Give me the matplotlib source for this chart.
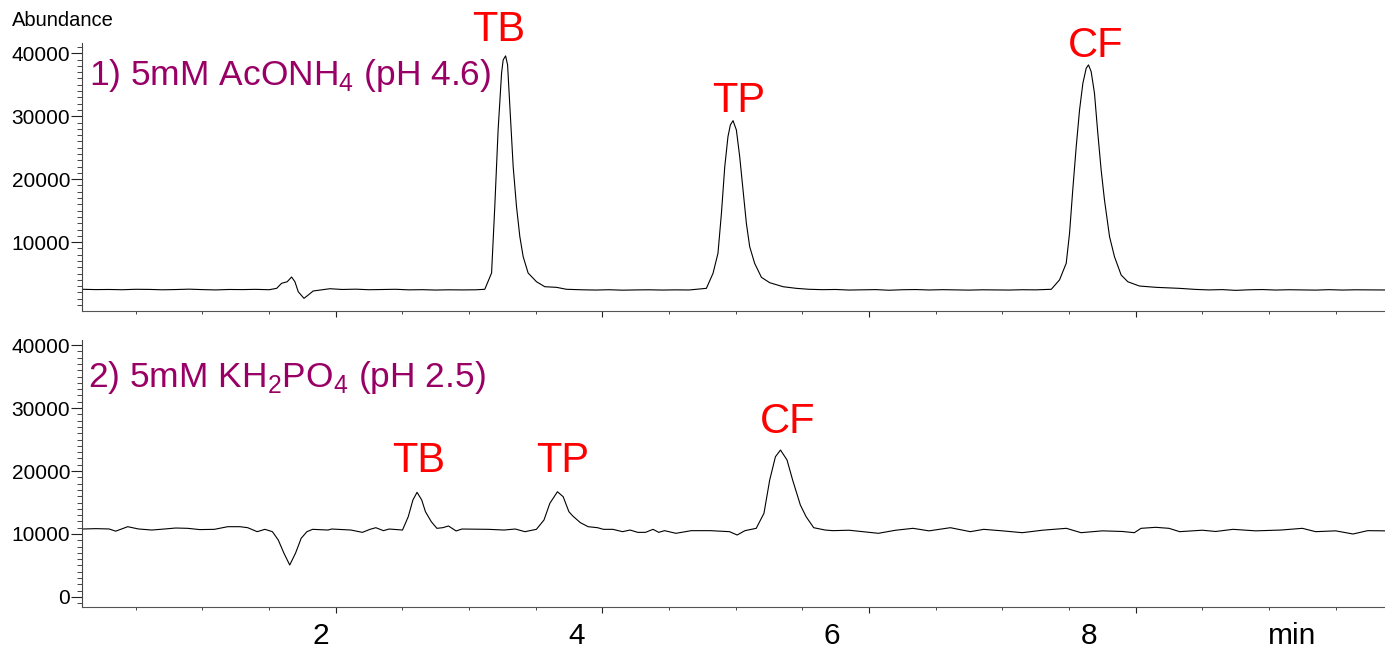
import matplotlib
matplotlib.use("Agg")
import matplotlib.pyplot as plt
from matplotlib.ticker import MultipleLocator, FixedLocator, NullFormatter
import matplotlib.transforms as mtransforms

plt.rcParams['font.family'] = ['Liberation Sans', 'DejaVu Sans']
plt.rcParams['mathtext.fontset'] = 'custom'
plt.rcParams['mathtext.rm'] = 'Liberation Sans'

# 1) 5mM AcONH4 (pH 4.6) - retention time (min) / abundance
t_top = [0.10, 0.20, 0.30, 0.40, 0.50, 0.60, 0.70, 0.80, 0.90, 1.00, 1.10, 1.20, 1.30, 1.40, 1.50,
         1.557, 1.594, 1.636, 1.669, 1.694, 1.719, 1.762, 1.794, 1.831, 1.881, 1.956,
         2.05, 2.15, 2.25, 2.35, 2.45, 2.55, 2.65, 2.75, 2.85, 2.95, 3.05,
         3.118, 3.169, 3.193, 3.218, 3.244, 3.256, 3.274, 3.289, 3.306, 3.331, 3.356, 3.381,
         3.406, 3.443, 3.506, 3.568, 3.656, 3.731,
         3.85, 3.95, 4.05, 4.15, 4.25, 4.35, 4.45, 4.55, 4.65,
         4.780, 4.830, 4.867, 4.893, 4.918, 4.942, 4.960, 4.980, 5.005, 5.030, 5.055, 5.080,
         5.105, 5.142, 5.193, 5.255, 5.355, 5.455,
         5.55, 5.65, 5.75, 5.85, 5.95, 6.05, 6.15, 6.25, 6.35, 6.45, 6.55, 6.65, 6.75, 6.85,
         6.95, 7.05, 7.15, 7.25,
         7.367, 7.429, 7.479, 7.504, 7.528, 7.554, 7.579, 7.604, 7.629, 7.646, 7.666, 7.691,
         7.716, 7.741, 7.766, 7.804, 7.841, 7.891, 7.941, 8.028, 8.153, 8.328,
         8.45, 8.55, 8.65, 8.75, 8.85, 8.95, 9.05, 9.15, 9.25, 9.35, 9.45, 9.55, 9.65, 9.75, 9.87]
a_top = [2500, 2450, 2470, 2430, 2500, 2480, 2420, 2460, 2520, 2450, 2400, 2470, 2450, 2490, 2430,
         2650, 3450, 3700, 4450, 3700, 2110, 1060, 1590, 2230, 2380, 2590,
         2470, 2520, 2430, 2460, 2500, 2410, 2440, 2380, 2420, 2400, 2420,
         2500, 5090, 15630, 27820, 36880, 38950, 39590, 38160, 31530, 21990, 15630, 10860,
         7680, 5090, 3700, 2910, 2810, 2500,
         2420, 2380, 2430, 2360, 2400, 2420, 2380, 2410, 2390,
         2650, 5040, 8220, 14580, 21990, 26760, 28620, 29300, 27820, 23580, 18280, 12990,
         9270, 6630, 4400, 3550, 2910, 2650,
         2500, 2440, 2470, 2380, 2420, 2450, 2350, 2430, 2460, 2390, 2440, 2400, 2370, 2420,
         2400, 2380, 2430, 2410,
         2500, 4000, 6630, 11400, 18280, 25160, 31000, 35250, 37630, 38160, 37100, 33650,
         27290, 21460, 16690, 10860, 7680, 4770, 3700, 3020, 2810, 2650,
         2480, 2400, 2450, 2330, 2420, 2460, 2380, 2430, 2400, 2370, 2440, 2380, 2420, 2400, 2390]

# 2) 5mM KH2PO4 (pH 2.5)
t_bot = [0.10, 0.20, 0.30, 0.35, 0.44, 0.52, 0.62, 0.72, 0.80, 0.89, 0.98, 1.09, 1.19,
         1.282, 1.340, 1.411, 1.469, 1.525, 1.569, 1.612, 1.655, 1.698, 1.741, 1.784, 1.827,
         1.942, 1.970, 2.114, 2.200, 2.257, 2.301, 2.358, 2.401,
         2.501, 2.544, 2.579, 2.610, 2.645, 2.673, 2.717, 2.759, 2.802, 2.846, 2.903, 2.946,
         3.147, 3.262, 3.347, 3.419, 3.505,
         3.562, 3.606, 3.663, 3.706, 3.749, 3.778, 3.835, 3.893, 3.964, 4.008,
         4.079, 4.151, 4.208, 4.265, 4.323, 4.380, 4.423, 4.466, 4.552, 4.667, 4.810, 4.954,
         5.011, 5.069, 5.154, 5.212, 5.255, 5.298, 5.336, 5.385, 5.427, 5.485, 5.528, 5.585,
         5.671, 5.729,
         5.85, 6.07, 6.20, 6.33, 6.45, 6.61, 6.76, 6.86, 7.00, 7.15, 7.30, 7.48, 7.59, 7.75,
         7.90, 7.99, 8.04, 8.15, 8.25, 8.33, 8.50, 8.60, 8.73, 8.90, 9.09, 9.25, 9.35, 9.50,
         9.63, 9.74, 9.87]
a_bot = [10790, 10850, 10800, 10450, 11160, 10800, 10630, 10800, 10950, 10900, 10700, 10740, 11160,
         11160, 11000, 10370, 10740, 10370, 9050, 6930, 5080, 6930, 9320, 10370, 10740,
         10630, 10790, 10630, 10260, 10740, 11000, 10530, 10790,
         10630, 12750, 15400, 16620, 15400, 13540, 11950, 10900, 11000, 11270, 10480, 10790,
         10740, 10630, 10790, 10370, 10740,
         12220, 14870, 16710, 15920, 13540, 12860, 11800, 11160, 11000, 10740,
         10740, 10370, 10630, 10260, 10260, 10740, 10260, 10530, 10110, 10530, 10530, 10370,
         9840, 10530, 10900, 13290, 18570, 22270, 23330, 21750, 18570, 14600, 12750, 11000,
         10630, 10530,
         10600, 10110, 10600, 10900, 10500, 11000, 10370, 10740, 10500, 10210, 10600, 10900, 10210, 10500,
         10400, 10210, 10900, 11060, 10900, 10370, 10600, 10400, 10740, 10500, 10630, 10900, 10370, 10500,
         10000, 10530, 10500]

# peak names and where they sit (time, abundance of label baseline)
peaks_top = ["TB", "TP", "CF"]
peak_t_top = [3.22, 5.02, 7.70]
peak_y_top = [41900, 30600, 39400]
peaks_bot = ["TB", "TP", "CF"]
peak_t_bot = [2.62, 3.70, 5.39]
peak_y_bot = [19800, 19800, 26000]

x_labels = ["2", "4", "6", "8", "min"]
x_label_pos = [1.89, 3.81, 5.72, 7.65, 9.17]

W, H = 1385, 647
fig = plt.figure(figsize=(W / 100, H / 100), dpi=100)

ax1 = fig.add_axes([82 / W, (H - 311) / H, (W - 82) / W, (311 - 43) / H])
ax2 = fig.add_axes([82 / W, (H - 607) / H, (W - 82) / W, (607 - 340) / H])

ax1.plot(t_top, a_top, color="black", lw=0.8)
ax2.plot(t_bot, a_bot, color="black", lw=0.8)

ax1.set_ylim(-950, 41640)
ax2.set_ylim(-1590, 40800)

for ax in (ax1, ax2):
    ax.set_xlim(0.097, 9.87)
    ax.spines["top"].set_visible(False)
    ax.spines["right"].set_visible(False)
    ax.spines["left"].set_color("#444444")
    ax.spines["bottom"].set_color("#555555")
    ax.xaxis.set_major_locator(MultipleLocator(2))
    ax.xaxis.set_minor_locator(MultipleLocator(0.5))
    ax.xaxis.set_major_formatter(NullFormatter())
    ax.yaxis.set_minor_locator(MultipleLocator(1000))
    ax.tick_params(axis="x", which="major", length=4.3, width=0.8, color="#222222")
    ax.tick_params(axis="x", which="minor", length=2.4, width=0.7, color="#444444")
    ax.tick_params(axis="y", which="major", length=8, width=0.8, pad=0.5, labelsize=15,
                   color="#222222")
    ax.tick_params(axis="y", which="minor", length=3.6, width=0.7, color="#444444")

ax1.yaxis.set_major_locator(FixedLocator([10000, 20000, 30000, 40000]))
ax2.yaxis.set_major_locator(FixedLocator([0, 10000, 20000, 30000, 40000]))

for name, tx, ty in zip(peaks_top, peak_t_top, peak_y_top):
    ax1.text(tx, ty, name, color="red", fontsize=30, ha="center", va="baseline", clip_on=False)
for name, tx, ty in zip(peaks_bot, peak_t_bot, peak_y_bot):
    ax2.text(tx, ty, name, color="red", fontsize=30, ha="center", va="baseline", clip_on=False)

# minutes labels under the lower axis
trans = mtransforms.blended_transform_factory(ax2.transData, ax2.transAxes)
for lab, xp in zip(x_labels, x_label_pos):
    ax2.text(xp, -0.055, lab, fontsize=21.5, ha="center", va="top", transform=trans, clip_on=False)

fig.text(89 / W, 1 - 85 / H, r"1) 5mM AcONH$_\mathregular{4}$ (pH 4.6)", color="#990066",
         fontsize=25.5, ha="left", va="baseline")
fig.text(88 / W, 1 - 387 / H, r"2) 5mM KH$_\mathregular{2}$PO$_\mathregular{4}$ (pH 2.5)",
         color="#990066", fontsize=25.5, ha="left", va="baseline")
fig.text(12 / W, 1 - 26 / H, "Abundance", fontsize=14.5, ha="left", va="baseline")

fig.savefig("out.png", dpi=100)
